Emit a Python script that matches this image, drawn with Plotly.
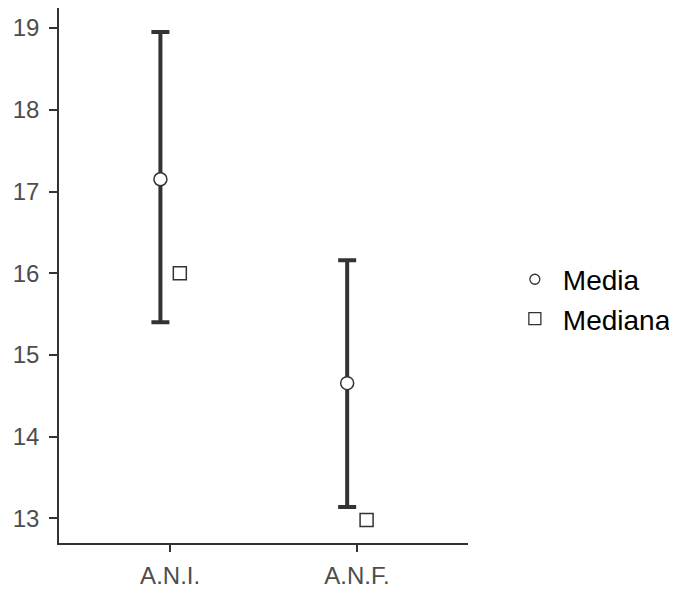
import plotly.graph_objects as go

categories = ["A.N.I.", "A.N.F."]
media = [17.15, 14.655]
media_upper = [18.95, 16.16]
media_lower = [15.40, 13.14]
mediana = [16.0, 12.98]
y_ticks = [13, 14, 15, 16, 17, 18, 19]

idx = list(range(len(categories)))
dodge = 0.052
x_media = [i - dodge for i in idx]
x_mediana = [i + dodge for i in idx]

err_plus = [u - m for u, m in zip(media_upper, media)]
err_minus = [m - l for m, l in zip(media, media_lower)]

FONT = "Liberation Sans, Arial, sans-serif"
DARK = "#333333"

fig = go.Figure()
fig.add_trace(go.Scatter(
    x=x_media, y=media, mode="markers", name="Media", showlegend=False,
    marker=dict(symbol="circle", size=13, color="white",
                line=dict(color=DARK, width=1.5)),
    error_y=dict(type="data", symmetric=False, array=err_plus,
                 arrayminus=err_minus, color=DARK, thickness=4, width=9),
))
fig.add_trace(go.Scatter(
    x=x_mediana, y=mediana, mode="markers", name="Mediana", showlegend=False,
    marker=dict(symbol="square", size=13, color="white",
                line=dict(color=DARK, width=1.5)),
))
# legend entries (smaller keys, as in the reference)
fig.add_trace(go.Scatter(
    x=[None], y=[None], mode="markers", name="Media",
    marker=dict(symbol="circle", size=10, color="white",
                line=dict(color=DARK, width=1.3)),
))
fig.add_trace(go.Scatter(
    x=[None], y=[None], mode="markers", name="Mediana",
    marker=dict(symbol="square", size=12, color="white",
                line=dict(color=DARK, width=1.3)),
))

fig.update_layout(
    width=669, height=582,
    margin=dict(l=51, r=209, t=0, b=47),
    plot_bgcolor="white", paper_bgcolor="white",
    font=dict(family=FONT, size=24, color="#4D4D4D"),
    showlegend=True,
    legend=dict(x=1.095, xanchor="left", y=0.456, yanchor="middle",
                font=dict(family=FONT, size=28, color="black"),
                bgcolor="rgba(0,0,0,0)", itemwidth=46),
    xaxis=dict(range=[-0.595, 1.595], tickmode="array", tickvals=idx,
               ticktext=categories, showgrid=False, zeroline=False,
               showline=True, linecolor=DARK, linewidth=1.5,
               ticks="outside", ticklen=7, tickwidth=2, tickcolor=DARK,
               ticklabelstandoff=3,
               tickfont=dict(size=24, color="#4D4D4D")),
    yaxis=dict(range=[12.70, 19.245], tickmode="array", tickvals=y_ticks,
               showgrid=False, zeroline=False,
               showline=True, linecolor=DARK, linewidth=1.5,
               ticks="outside", ticklen=8, tickwidth=2, tickcolor=DARK,
               ticklabelstandoff=5,
               tickfont=dict(size=24, color="#4D4D4D")),
)

fig.write_html("out.html")
